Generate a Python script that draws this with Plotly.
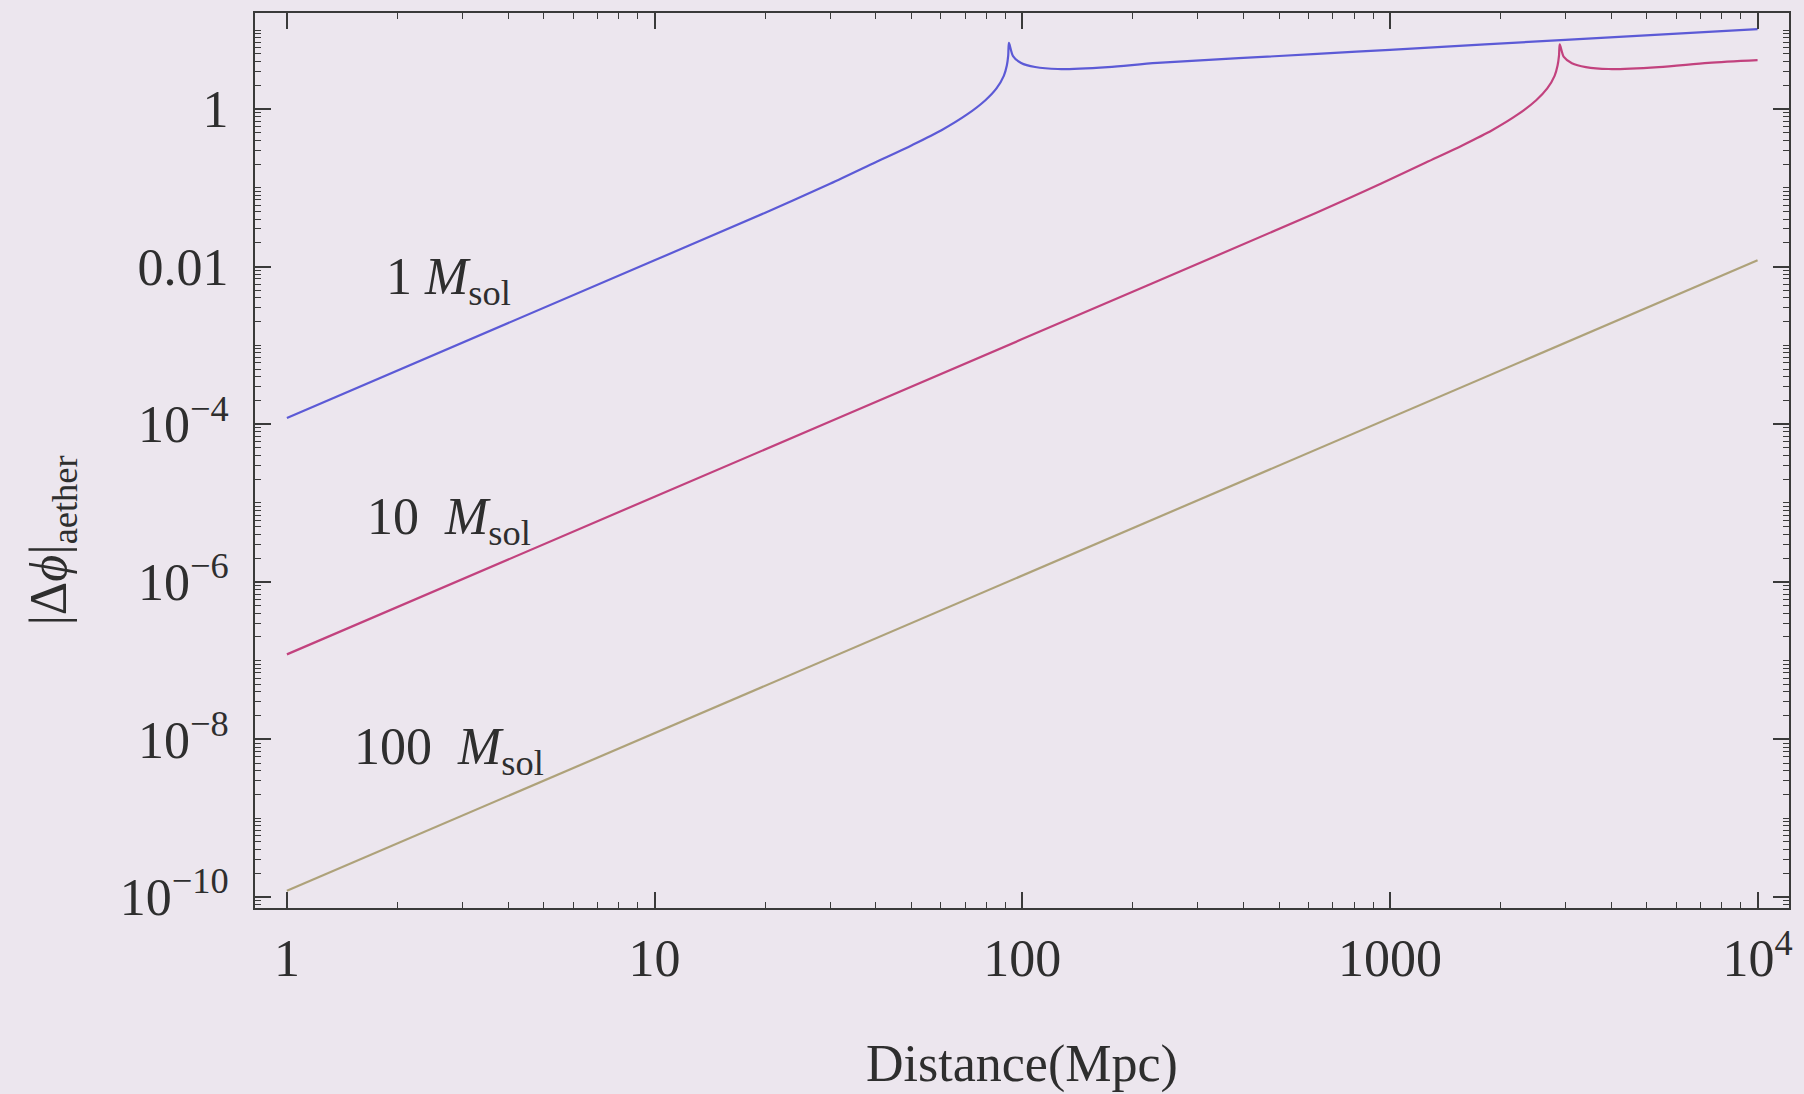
import numpy as np
import plotly.graph_objects as go

# ---------------- data ----------------
dist_1 = [1, 10, 20, 30, 39.8, 50.1, 60.3, 70.8, 79.4, 85.1, 89.1, 90.8, 91.6, 92.0,
          94.4, 99.3, 108.4, 125, 171, 233, 634, 1000, 3000, 10000]
phi_1 = [1.2e-4, 1.2e-2, 4.81e-2, 0.112, 0.209, 0.347, 0.537, 0.851, 1.29, 1.82, 2.63, 3.55, 4.79, 6.87,
         4.68, 3.83, 3.40, 3.21, 3.40, 3.83, 4.99, 5.62, 7.52, 10.3]

dist_10 = [1, 10, 100, 631, 944, 1253, 1578, 1897, 2228, 2500, 2679, 2805, 2858, 2884, 2897,
           2972, 3126, 3412, 3936, 5383, 7345, 10000]
phi_10 = [1.2e-7, 1.2e-5, 1.2e-3, 4.81e-2, 0.112, 0.209, 0.347, 0.537, 0.851, 1.29, 1.82, 2.63, 3.55, 4.79, 6.6,
          4.57, 3.80, 3.39, 3.21, 3.40, 3.83, 4.15]

dist_100 = [1, 10, 100, 1000, 10000]
phi_100 = [1.2e-10, 1.2e-8, 1.2e-6, 1.2e-4, 1.2e-2]

x_tickvals = [1, 10, 100, 1000, 10000]
x_ticktext = ["1", "10", "100", "1000", "10<sup>4</sup>"]
y_tickvals = [1, 1e-2, 1e-4, 1e-6, 1e-8, 1e-10]
y_ticktext = ["1", "0.01", "10<sup>−4</sup>", "10<sup>−6</sup>", "10<sup>−8</sup>", "10<sup>−10</sup>"]

labels = ["1 <i>M</i><sub>sol</sub>", "10  <i>M</i><sub>sol</sub>", "100  <i>M</i><sub>sol</sub>"]

# ---------------- styling ----------------
BG = "#ece6ee"
FRAME = "#3a3a3a"
TXT = "#2e2e2e"
FONT = "Liberation Serif"

fig = go.Figure()
fig.add_trace(go.Scatter(x=dist_1, y=phi_1, mode="lines",
                         line=dict(color="#5c5ad6", width=2.2, shape="spline", smoothing=0.8), showlegend=False))
fig.add_trace(go.Scatter(x=dist_10, y=phi_10, mode="lines",
                         line=dict(color="#c2427e", width=2.2, shape="spline", smoothing=0.8), showlegend=False))
fig.add_trace(go.Scatter(x=dist_100, y=phi_100, mode="lines",
                         line=dict(color="#aea27a", width=2.2), showlegend=False))

# minor ticks
x_minor = [m * 10 ** e for e in range(0, 4) for m in range(2, 10)]
y_minor = [m * 10 ** e for e in range(-11, 2) for m in range(1, 10)
           if not (m == 1 and 10 ** e in [1, 1e-2, 1e-4, 1e-6, 1e-8, 1e-10])]
y_minor = [v for v in y_minor if 6e-11 < v < 17]

fig.update_xaxes(
    type="log", range=[-0.0868, 4.0855],
    tickmode="array", tickvals=x_tickvals, ticktext=x_ticktext,
    ticks="inside", ticklen=16, tickwidth=1.6, tickcolor=FRAME,
    minor=dict(tickmode="array", tickvals=x_minor, ticks="inside", ticklen=6, tickwidth=1.2, tickcolor=FRAME, showgrid=False),
    showline=True, linecolor=FRAME, linewidth=2, mirror="allticks",
    showgrid=False, zeroline=False,
    tickfont=dict(family=FONT, size=52, color=TXT),
    ticklabelstandoff=4,
)
fig.update_yaxes(
    type="log", range=[-10.139, 1.217],
    tickmode="array", tickvals=y_tickvals, ticktext=y_ticktext,
    ticks="inside", ticklen=16, tickwidth=1.6, tickcolor=FRAME,
    minor=dict(tickmode="array", tickvals=y_minor, ticks="inside", ticklen=6, tickwidth=1.2, tickcolor=FRAME, showgrid=False),
    showline=True, linecolor=FRAME, linewidth=2, mirror="allticks",
    showgrid=False, zeroline=False,
    tickfont=dict(family=FONT, size=52, color=TXT),
    ticklabelstandoff=14,
)

ann_x = [0.44, 0.442, 0.44]
ann_y = [-2.18, -5.22, -8.14]
for t, ax_, ay_ in zip(labels, ann_x, ann_y):
    fig.add_annotation(x=ax_, y=ay_, xref="x", yref="y", text=t, showarrow=False,
                       xanchor="center", yanchor="middle",
                       font=dict(family=FONT, size=52, color=TXT))

fig.add_annotation(x=0.5, y=-0.174, xref="paper", yref="paper", text="Distance(Mpc)",
                   xanchor="center", yanchor="middle",
                   showarrow=False, font=dict(family=FONT, size=52, color=TXT))
fig.add_annotation(x=-0.132, y=0.41, xref="paper", yref="paper", text="|Δ<i>ϕ</i>|<sub>aether</sub>",
                   xanchor="center", yanchor="middle",
                   textangle=-90, showarrow=False, font=dict(family=FONT, size=52, color=TXT))

fig.update_layout(
    width=1804, height=1094,
    margin=dict(l=255, r=11, t=12, b=186),
    paper_bgcolor=BG, plot_bgcolor=BG,
    showlegend=False,
)

fig.write_html("out.html")
